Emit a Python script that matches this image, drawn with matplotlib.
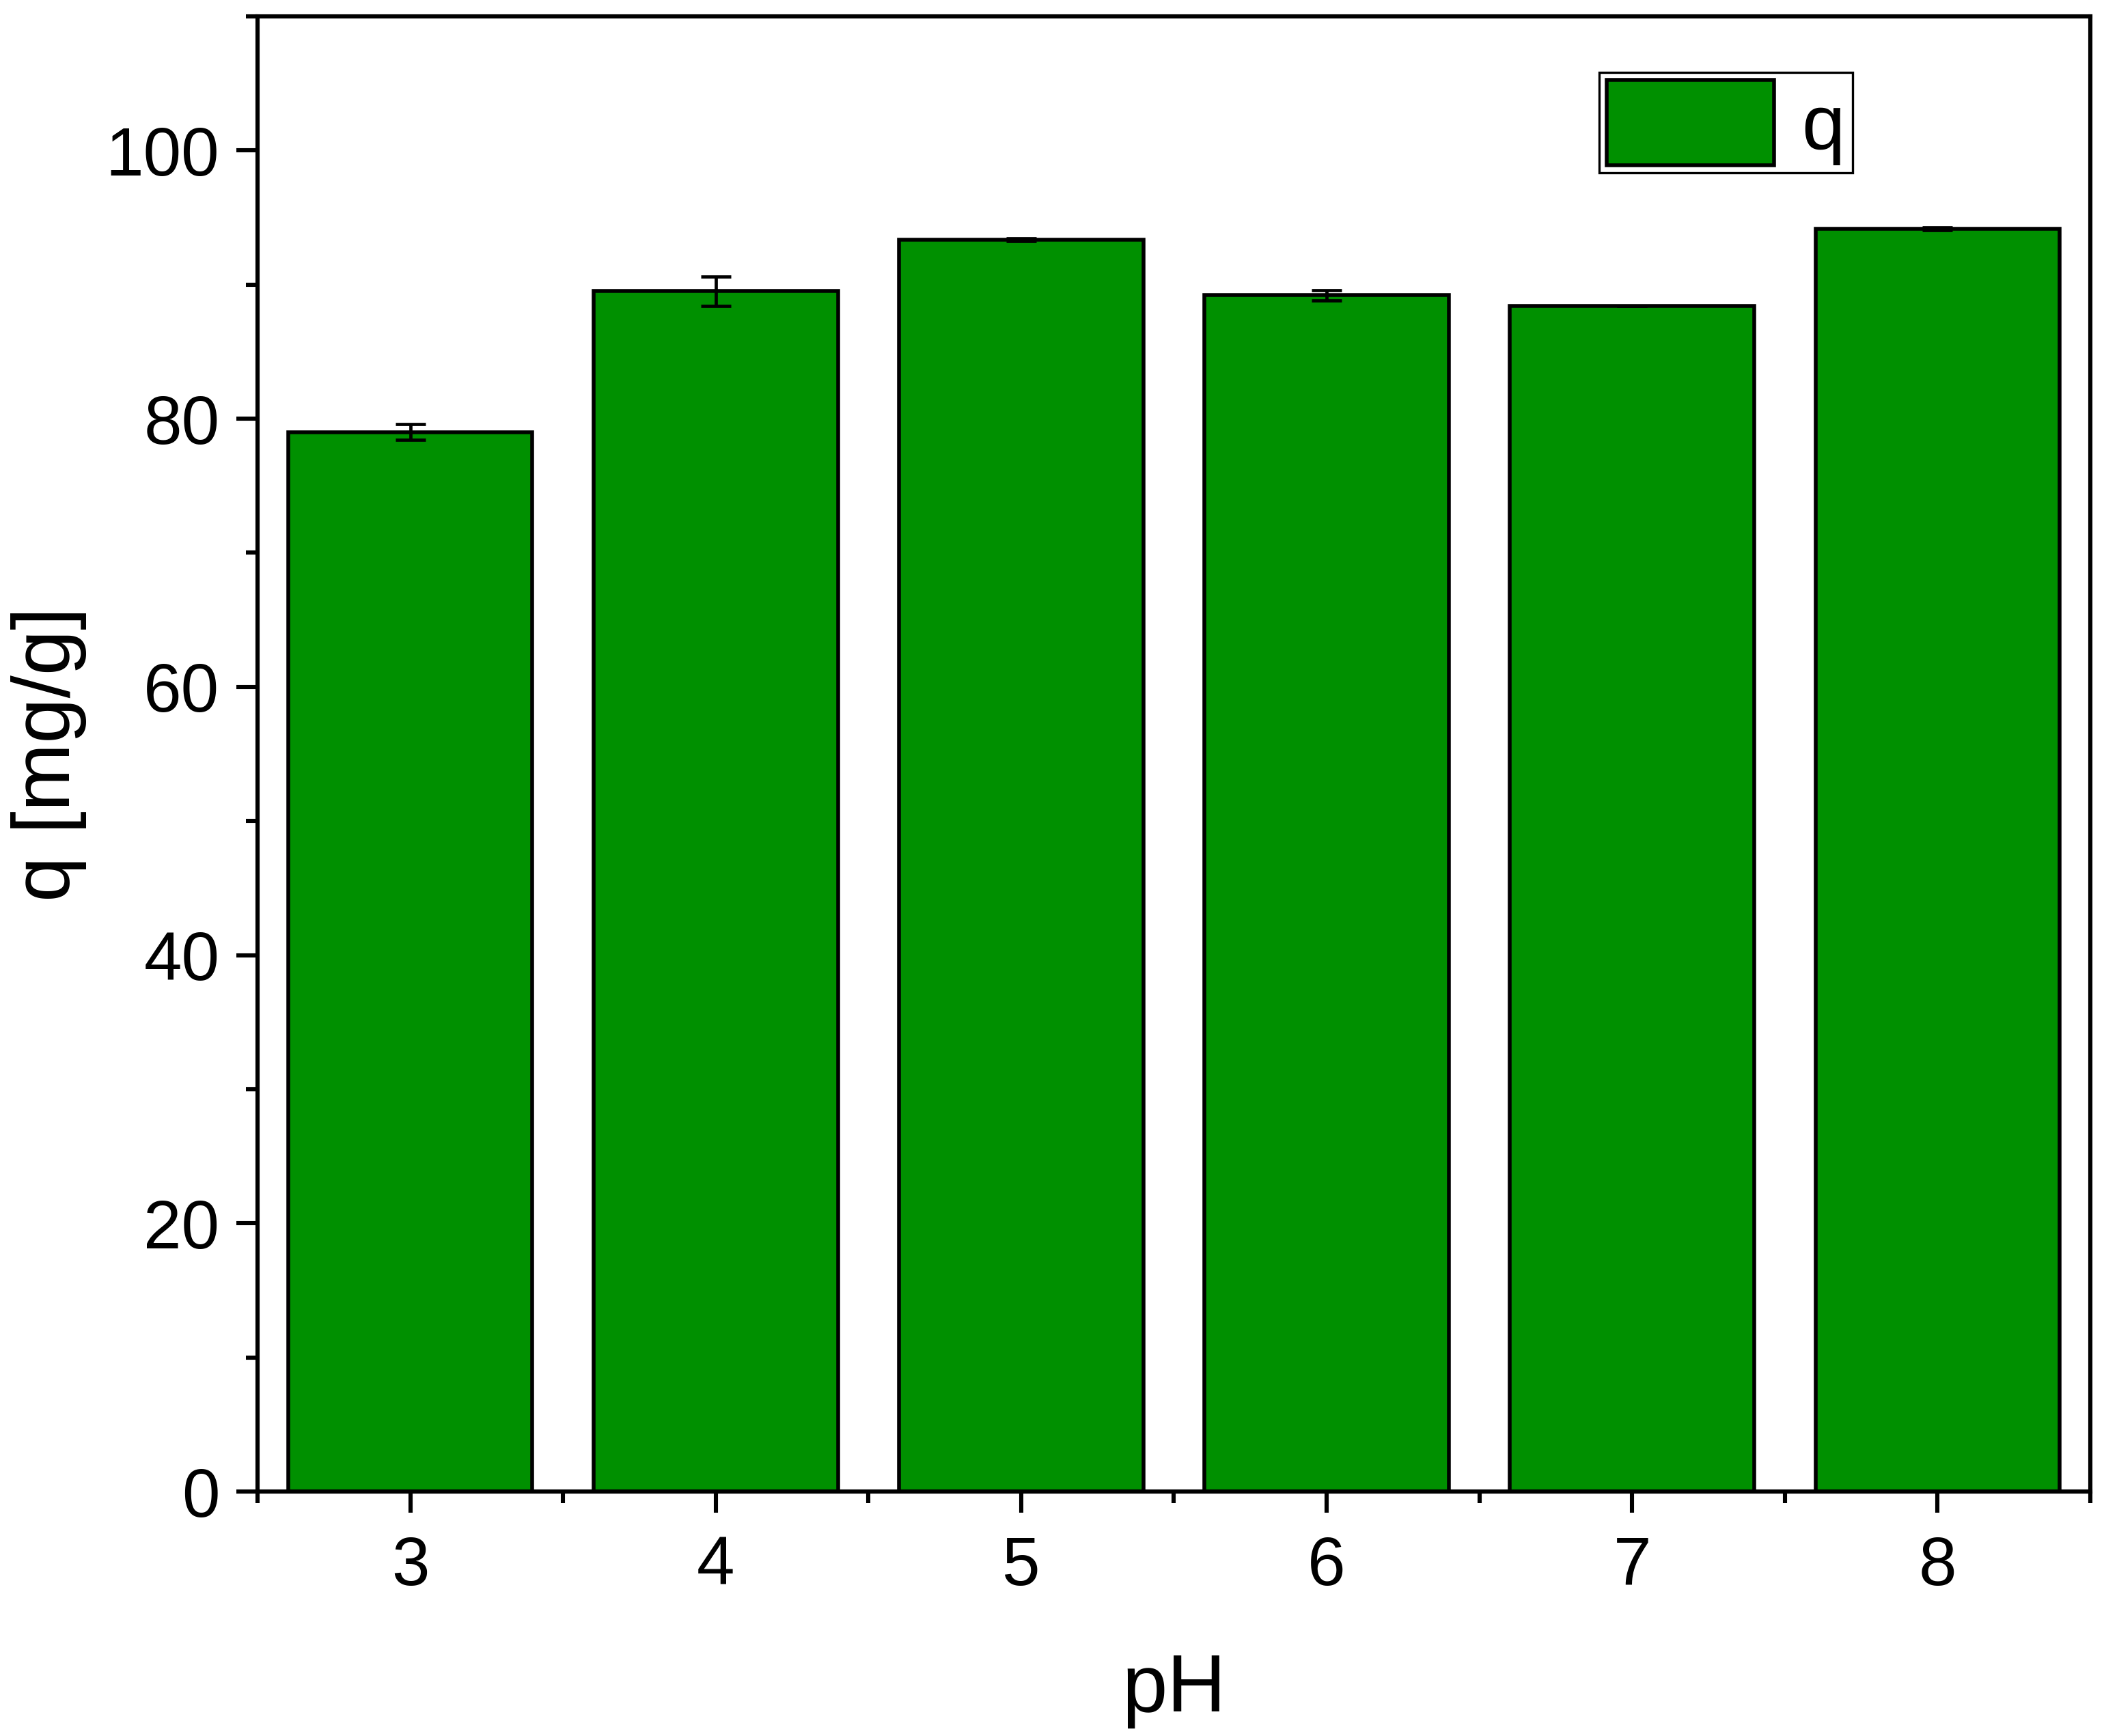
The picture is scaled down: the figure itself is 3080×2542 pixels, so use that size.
import matplotlib
matplotlib.use('Agg')
import matplotlib.pyplot as plt
from matplotlib.ticker import MultipleLocator

plt.rcParams['font.family'] = ['Liberation Sans', 'DejaVu Sans']

ph = [3, 4, 5, 6, 7, 8]
q = [79.0, 89.5, 93.35, 89.2, 88.4, 94.15]
q_err = [0.6, 1.1, 0.12, 0.38, 0.0, 0.1]

fig = plt.figure(figsize=(15.4, 12.71), dpi=200)
ax = fig.add_axes([0.1224, 0.1408, 0.8711, 0.8498])

ax.bar(ph, q, width=0.8, color='#009000', edgecolor='black', linewidth=2.0,
       yerr=q_err, error_kw=dict(ecolor='black', elinewidth=1.7, capsize=8, capthick=1.7),
       label='q')

ax.set_xlim(2.5, 8.5)
ax.set_ylim(0, 110)
ax.xaxis.set_major_locator(MultipleLocator(1))
ax.xaxis.set_minor_locator(MultipleLocator(0.5))
ax.yaxis.set_major_locator(MultipleLocator(20))
ax.yaxis.set_minor_locator(MultipleLocator(10))

for s in ax.spines.values():
    s.set_linewidth(2.2)
ax.tick_params(which='major', direction='out', length=11, width=2.2, labelsize=36, pad=9)
ax.tick_params(axis='x', which='major', pad=12)
ax.tick_params(which='minor', direction='out', length=6, width=2.2)

ax.set_xlabel('pH', fontsize=43, labelpad=28)
ax.set_ylabel('q [mg/g]', fontsize=43, labelpad=10)

leg = ax.legend(loc='upper left', bbox_to_anchor=(0.732, 0.962), fontsize=41,
                handlelength=2.15, handleheight=1.3, handletextpad=0.35,
                borderpad=0.1, borderaxespad=0, fancybox=False, framealpha=1,
                edgecolor='black')
leg.get_frame().set_linewidth(1.2)

fig.savefig('out.png', dpi=200)
